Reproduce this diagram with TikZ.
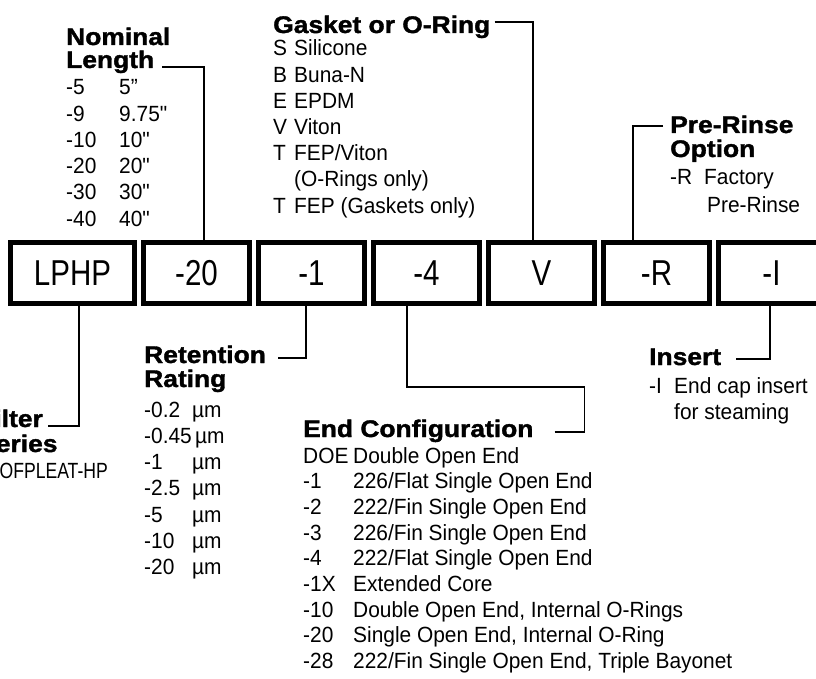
\documentclass[tikz,border=0pt]{standalone}
\usepackage{fontspec}
\setmainfont{Liberation Sans}[FakeStretch=0.95, Ligatures=TeXOff]
\newfontfamily\headfont{Liberation Sans}[FakeStretch=1.1,FakeBold=1.5]
\newfontfamily\boxfont{Liberation Sans}[FakeStretch=0.82]
\newfontfamily\narrowfont{Liberation Sans}[FakeStretch=0.8]
\usetikzlibrary{positioning}
\tikzset{
    codebox/.style={draw, line width=5pt, outer sep=0pt, minimum width=106pt, minimum height=61pt, inner sep=0pt, font=\boxfont\fontsize{36}{36}\selectfont},
    headtxt/.style={inner sep=0pt, anchor=base west, font=\headfont\bfseries\fontsize{24}{24}\selectfont},
    bodytxt/.style={inner sep=0pt, anchor=base west, font=\fontsize{22}{26}\selectfont},
    leader/.style={line width=1.2pt}
}

\begin{document}
\begin{tikzpicture}[x=1pt, y=-1pt]
    \useasboundingbox (0,0) rectangle (816,679);
    \clip (0,0) rectangle (816,679);

    % Part number boxes
    \node[codebox, minimum width=124pt] (b1) at (72.5,273) {LPHP};
    \node[codebox, right=9pt of b1] (b2) {-20};
    \node[codebox, right=9pt of b2] (b3) {-1};
    \node[codebox, right=9pt of b3] (b4) {-4};
    \node[codebox, right=9pt of b4] (b5) {V};
    \node[codebox, right=9pt of b5] (b6) {-R};
    \node[codebox, right=9pt of b6] (b7) {-I};

    % Nominal length
    \node[headtxt] (lenA) at (66,45) {Nominal};
    \node[headtxt] (lenB) at (66,68) {Length};
    \foreach \c/\v [count=\i] in {-5/5”, -9/9.75", -10/10", -20/20", -30/30", -40/40"}{
        \node[bodytxt] (lenc\i) at (66,{95+26.2*(\i-1)}) {\c};
        \node[bodytxt] (lenv\i) at (119,{95+26.2*(\i-1)}) {\v};
    }

    % Gasket or O-ring
    \node[headtxt] (gasH) at (273,33) {Gasket or O-Ring};
    \foreach \c/\v [count=\i] in {S/Silicone, B/Buna-N, E/EPDM, V/Viton, T/{FEP/Viton}, {}/(O-Rings only), T/FEP (Gaskets only)}{
        \node[bodytxt] (gasc\i) at (273,{56+26.2*(\i-1)}) {\c};
        \node[bodytxt] (gasv\i) at (294,{56+26.2*(\i-1)}) {\v};
    }

    % Pre-rinse option
    \node[headtxt] (preA) at (670,133) {Pre-Rinse};
    \node[headtxt] (preB) at (670,157) {Option};
    \node[bodytxt] (prec) at (670,185) {-R};
    \node[bodytxt] (prev1) at (704,185) {Factory};
    \node[bodytxt] (prev2) at (707,212) {Pre-Rinse};

    % Filter series
    \node[headtxt, anchor=base east] (filA) at (43,427) {Filter};
    \node[headtxt] (filB) at ([yshift=-25pt]filA.base west) {Series};
    \node[bodytxt, anchor=base east, font=\narrowfont\fontsize{22}{26}\selectfont] (filc) at (108,478) {LOFPLEAT-HP};

    % Retention rating
    \node[headtxt] (retA) at (144,363) {Retention};
    \node[headtxt] (retB) at (144,387) {Rating};
    \foreach \c/\x [count=\i] in {-0.2/192, -0.45/195, -1/192, -2.5/192, -5/192, -10/192, -20/192}{
        \node[bodytxt] (retc\i) at (144,{417+26.3*(\i-1)}) {\c};
        \node[bodytxt] (retv\i) at (\x,{417+26.3*(\i-1)}) {µm};
    }

    % End configuration
    \node[headtxt] (endH) at (303,437) {End Configuration};
    \foreach \c/\v [count=\i] in {DOE/Double Open End, -1/{226/Flat Single Open End}, -2/{222/Fin Single Open End}, -3/{226/Fin Single Open End}, -4/{222/Flat Single Open End}, -1X/Extended Core, -10/{Double Open End, Internal O-Rings}, -20/{Single Open End, Internal O-Ring}, -28/{222/Fin Single Open End, Triple Bayonet}}{
        \node[bodytxt] (endc\i) at (303,{463+25.7*(\i-1)}) {\c};
        \node[bodytxt] (endv\i) at (353,{463+25.7*(\i-1)}) {\v};
    }

    % Insert
    \node[headtxt] (insH) at (649,365) {Insert};
    \node[bodytxt] (insc) at (649,393) {-I};
    \node[bodytxt] (insv1) at (674,393) {End cap insert};
    \node[bodytxt] (insv2) at (674,419) {for steaming};

    % Leaders
    \draw[leader] ([shift={(8pt,1pt)}]lenB.base east) -| ([xshift=7.5pt]b2.north);
    \draw[leader] ([shift={(4pt,11pt)}]gasH.base east) -| ([xshift=-8.5pt]b5.north);
    \draw[leader] ([shift={(-7pt,7pt)}]preA.base west) -| ([xshift=-23.5pt]b6.north);
    \draw[leader] ([shift={(5pt,1pt)}]filA.base east) -| ([xshift=6.5pt]b1.south);
    \draw[leader] ([shift={(12pt,5pt)}]retA.base east) -| ([xshift=-5.5pt]b3.south);
    \draw[leader] ([shift={(21pt,5pt)}]endH.base east) -| ++(30pt,45pt) -| ([xshift=-19.5pt]b4.south);
    \draw[leader] ([shift={(15pt,6pt)}]insH.base east) -| ([xshift=-1.5pt]b7.south);
\end{tikzpicture}
\end{document}
